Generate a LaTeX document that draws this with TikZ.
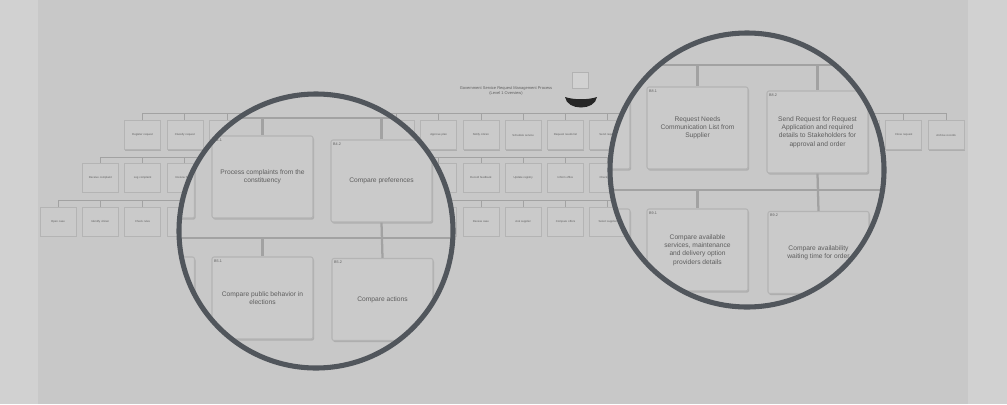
\documentclass[tikz,border=0pt]{standalone}
\usepackage{fontspec}
\setmainfont{Liberation Sans}
\usetikzlibrary{shadows}
\definecolor{outerbg}{HTML}{D1D1D1}
\definecolor{innerbg}{HTML}{C8C8C8}
\definecolor{boxfill}{HTML}{CACACA}
\definecolor{boxline}{HTML}{B4B4B4}
\definecolor{shadowc}{HTML}{A8A8A8}
\definecolor{connc}{HTML}{A2A2A2}
\definecolor{lensc}{HTML}{51565C}
\definecolor{txt}{HTML}{5E5E5E}
\tikzset{
  sbox/.style={draw=boxline, fill=boxfill, line width=0.5pt, minimum width=27pt, minimum height=22pt,
    inner sep=0.5pt, text width=24pt, align=center, text=txt, font=\fontsize{2.1}{2.5}\selectfont,
    drop shadow={shadow xshift=0.5pt, shadow yshift=-0.7pt, fill=shadowc, opacity=0.8}},
  bbox/.style={draw=boxline, fill=boxfill, line width=0.8pt, rounded corners=1.5pt,
    minimum width=75.75pt, minimum height=61.5pt, inner sep=1pt, align=center,
    text=txt, font=\fontsize{5}{6.2}\selectfont,
    drop shadow={shadow xshift=0.8pt, shadow yshift=-1.2pt, fill=shadowc, opacity=0.8}},
  tagtext/.style={anchor=north west, inner sep=0pt, text=txt, font=\fontsize{2.8}{3}\selectfont},
  conn/.style={draw=connc, line width=0.6pt},
  bconn/.style={draw=connc, line width=1.7pt},
  lens/.style={draw=lensc, line width=3.8pt},
  titletext/.style={text=txt, align=center, font=\fontsize{3}{3.8}\selectfont, inner sep=0pt},
}
\begin{document}
\begin{tikzpicture}[x=0.75pt, y=-0.75pt]
% background
\fill[outerbg] (0,0) rectangle (1007,404);
\fill[innerbg] (38,0) rectangle (968,404);
\useasboundingbox (0,0) rectangle (1007,404);

% title and icon
\node[titletext] (title) at (506,91) {Government Service Request Management Process\\(Level 1 Overview)};
\node[draw=black!30, fill=black!18, line width=0.4pt, minimum width=12pt, minimum height=12pt, inner sep=0pt] (iconbox) at (580,80) {};
\fill[black!85] (565,97) .. controls (567,111) and (595,111) .. (597,97) .. controls (588,100) and (574,100) .. (565,97);

% bus lines of the small chart
\coordinate (bus1) at (0,113);
\coordinate (bus2) at (0,157);
\coordinate (bus3) at (0,200);

% row 1: columns 2..21
\foreach \lab [count=\i from 2] in {Register request, Classify request, Check eligibility, {}, {}, {}, {}, Approve plan, Notify citizen, Schedule service, Request needs list, Send request, {}, {}, {}, {}, {}, {}, Close request, Archive records}{
  \node[sbox] (r1c\i) at ({58+42.29*\i},135) {\lab};
}
\draw[conn] (r1c2.north |- bus1) -- (r1c21.north |- bus1);
\foreach \i in {2,...,21}{ \draw[conn] (r1c\i.north) -- (r1c\i.north |- bus1); }

% row 2: columns 1..15
\foreach \lab [count=\i from 1] in {Receive complaint, Log complaint, Review history, {}, {}, {}, {}, {}, {}, Record feedback, Update registry, Inform office, Check status, {}, {}}{
  \node[sbox] (r2c\i) at ({58+42.29*\i},177.5) {\lab};
}
\draw[conn] (r2c1.north |- bus2) -- (r2c15.north |- bus2);
\foreach \i in {1,...,15}{ \draw[conn] (r2c\i.north) -- (r2c\i.north |- bus2); }

% row 3: columns 0..14
\foreach \lab [count=\i from 0] in {Open case, Identify citizen, Check rules, Gather input, {}, {}, {}, {}, {}, {}, Review case, Ask supplier, Compare offers, Select supplier, {}}{
  \node[sbox] (r3c\i) at ({58+42.29*\i},221.5) {\lab};
}
\draw[conn] (r3c0.north |- bus3) -- (r3c14.north |- bus3);
\foreach \i in {0,...,14}{ \draw[conn] (r3c\i.north) -- (r3c\i.north |- bus3); }

% ---------- left magnifier ----------
\begin{scope}
  \clip (316,231) circle [radius=137];
  \fill[innerbg] (316,231) circle [radius=140];
  \coordinate (lbus1) at (0,118);
  \coordinate (lbus2) at (0,238);
  \draw[bconn] (150,118) -- (480,118);
  \draw[bconn] (150,238) -- (480,238);
  \node[bbox] (lnb1) at (144,177) {};
  \node[bbox] (lnb2) at (144,298) {};
  \node[bbox] (L1) at (262.5,177) {Process complaints from the\\constituency};
  \node[bbox] (L2) at (381.5,181) {Compare preferences};
  \node[bbox] (L3) at (262.5,298) {Compare public behavior in\\elections};
  \node[bbox] (L4) at (382.5,299.5) {Compare actions};
  \node[tagtext] (L1t) at ([shift={(2.5,3)}]L1.north west) {B4.1};
  \node[tagtext] (L2t) at ([shift={(2.5,3)}]L2.north west) {B4.2};
  \node[tagtext] (L3t) at ([shift={(2.5,3)}]L3.north west) {B5.1};
  \node[tagtext] (L4t) at ([shift={(2.5,3)}]L4.north west) {B5.2};
  \draw[bconn] (L1.north |- lbus1) -- (L1.north);
  \draw[bconn] (L2.north |- lbus1) -- (L2.north);
  \draw[bconn] (L2.south) -- (L4.north);
  \draw[bconn] (L3.north |- lbus2) -- (L3.north);
\end{scope}
\draw[lens] (316,231) circle [radius=137];

% ---------- right magnifier ----------
\begin{scope}
  \clip (747,170) circle [radius=137];
  \fill[innerbg] (747,170) circle [radius=140];
  \coordinate (rbus1) at (0,65);
  \coordinate (rbus2) at (0,190);
  \draw[bconn] (590,65) -- (900,65);
  \draw[bconn] (590,190) -- (900,190);
  \node[bbox] (rnb1) at (579.5,128) {};
  \node[bbox] (rnb2) at (579.5,250) {};
  \node[bbox] (R1) at (697.5,128) {Request Needs\\Communication List from\\Supplier};
  \node[bbox] (R2) at (817.5,132) {Send Request for Request\\Application and required\\details to Stakeholders for\\approval and order};
  \node[bbox] (R3) at (697.5,250) {Compare available\\services, maintenance\\and delivery option\\providers details};
  \node[bbox] (R4) at (818.5,252.5) {Compare availability\\waiting time for order};
  \node[tagtext] (R1t) at ([shift={(2.5,3)}]R1.north west) {B8.1};
  \node[tagtext] (R2t) at ([shift={(2.5,3)}]R2.north west) {B8.2};
  \node[tagtext] (R3t) at ([shift={(2.5,3)}]R3.north west) {B9.1};
  \node[tagtext] (R4t) at ([shift={(2.5,3)}]R4.north west) {B9.2};
  \draw[bconn] (R1.north |- rbus1) -- (R1.north);
  \draw[bconn] (R2.north |- rbus1) -- (R2.north);
  \draw[bconn] (R2.south) -- (R4.north);
  \draw[bconn] (R3.north |- rbus2) -- (R3.north);
\end{scope}
\draw[lens] (747,170) circle [radius=137];
\end{tikzpicture}
\end{document}
